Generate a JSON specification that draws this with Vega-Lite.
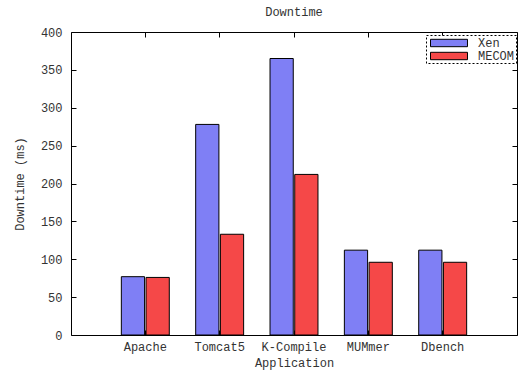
{
  "$schema": "https://vega.github.io/schema/vega-lite/v6.json",
  "width": 446,
  "height": 303,
  "autosize": {"type": "none"},
  "padding": {"left": 71, "top": 32, "right": 12, "bottom": 39},
  "background": "white",
  "title": {"text": "Downtime", "font": "Liberation Mono", "fontSize": 12, "fontWeight": "normal", "color": "#333", "offset": 7, "anchor": "middle"},
  "data": {"values": [
    {"app": "Apache", "system": "Xen", "value": 77},
    {"app": "Apache", "system": "MECOM", "value": 76},
    {"app": "Tomcat5", "system": "Xen", "value": 278},
    {"app": "Tomcat5", "system": "MECOM", "value": 133},
    {"app": "K-Compile", "system": "Xen", "value": 365},
    {"app": "K-Compile", "system": "MECOM", "value": 212},
    {"app": "MUMmer", "system": "Xen", "value": 112},
    {"app": "MUMmer", "system": "MECOM", "value": 96},
    {"app": "Dbench", "system": "Xen", "value": 112},
    {"app": "Dbench", "system": "MECOM", "value": 96}
  ]},
  "config": {
    "view": {"stroke": "black", "strokeWidth": 1},
    "font": "Liberation Mono",
    "axis": {"labelFont": "Liberation Mono", "titleFont": "Liberation Mono", "labelFontSize": 12, "titleFontSize": 12, "titleFontWeight": "normal", "labelColor": "#333", "titleColor": "#333", "domain": false, "tickColor": "black", "grid": false}
  },
  "layer": [
    {
      "mark": {"type": "bar", "stroke": "black", "strokeWidth": 1},
      "encoding": {
        "x": {"field": "app", "type": "nominal", "sort": ["Apache", "Tomcat5", "K-Compile", "MUMmer", "Dbench"],
              "scale": {"paddingInner": 0.355, "paddingOuter": 0.677},
              "axis": {"title": "Application", "labelAngle": 0, "tickSize": -5, "labelPadding": 11, "titlePadding": 5}},
        "xOffset": {"field": "system", "type": "nominal", "sort": ["Xen", "MECOM"], "scale": {"paddingInner": 0.06}},
        "y": {"field": "value", "type": "quantitative", "scale": {"domain": [0, 400]},
              "axis": {"title": "Downtime (ms)", "values": [0, 50, 100, 150, 200, 250, 300, 350, 400], "tickSize": -5, "labelPadding": 14, "titlePadding": 14}},
        "color": {"field": "system", "type": "nominal", "sort": ["Xen", "MECOM"],
                  "scale": {"domain": ["Xen", "MECOM"], "range": ["#7f7ff5", "#f54848"]},
                  "legend": {"title": null, "orient": "none", "legendX": 355, "legendY": 3, "symbolType": "M-3,-0.6H3V0.6H-3Z", "symbolSize": 152, "symbolOffset": 15, "symbolStrokeColor": "black", "symbolStrokeWidth": 1, "symbolOpacity": 1, "labelFont": "Liberation Mono", "labelFontSize": 12, "labelColor": "#333", "labelOffset": 22, "rowPadding": -1, "padding": 1, "strokeColor": "black", "fillColor": "white",
                             "encode": {"legend": {"update": {"strokeDash": {"value": [2, 2]}}}}}}
      }
    },
    {
      "mark": {"type": "bar", "opacity": 0},
      "encoding": {
        "x": {"field": "app", "type": "nominal", "sort": ["Apache", "Tomcat5", "K-Compile", "MUMmer", "Dbench"],
              "axis": {"orient": "top", "labels": false, "title": null, "tickSize": -5}},
        "xOffset": {"field": "system", "type": "nominal", "sort": ["Xen", "MECOM"]},
        "y": {"field": "value", "type": "quantitative",
              "axis": {"orient": "right", "labels": false, "title": null, "values": [0, 50, 100, 150, 200, 250, 300, 350, 400], "tickSize": -5}}
      }
    }
  ],
  "resolve": {"axis": {"x": "independent", "y": "independent"}}
}
